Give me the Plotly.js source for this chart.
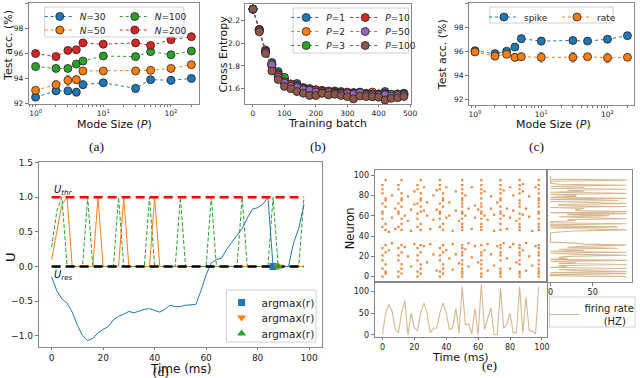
<!DOCTYPE html>
<html>
<head>
<meta charset="utf-8">
<script src="https://cdn.plot.ly/plotly-3.0.1.min.js"></script>
<style>html,body{margin:0;padding:0;background:#fff}#plot{width:640px;height:378px}</style>
</head>
<body>
<div id="plot"></div>
<script>
// (a) test accuracy vs mode size, one series per N
const modeSizes = [1, 2, 3, 4, 5, 10, 30, 50, 100, 200];
const accN30 = [92.5, 93.0, 93.0, 92.9, 93.5, 93.65, 93.2, 93.9, 93.85, 94.0];
const accN50 = [93.05, 93.5, 93.85, 93.9, 94.6, 94.6, 94.6, 94.65, 94.8, 95.1];
const accN100 = [94.95, 94.8, 94.8, 95.15, 95.4, 95.8, 95.75, 96.15, 95.9, 96.2];
const accN200 = [96.0, 95.75, 96.25, 96.3, 96.85, 96.75, 96.85, 96.65, 97.1, 97.35];
const errN30 = [0.1, 0.2, 0.25, 0.3, 0.3, 0.15, 0.3, 0.15, 0.3, 0.2];
const errN50 = [0.15, 0.3, 0.4, 0.3, 0.2, 0.1, 0.1, 0.15, 0.15, 0.15];
const errN100 = [0.15, 0.15, 0.2, 0.15, 0.15, 0.15, 0.15, 0.2, 0.1, 0.1];
const errN200 = [0.1, 0.25, 0.15, 0.2, 0.25, 0.2, 0.15, 0.15, 0.15, 0.1];

// (b) cross entropy during training, one series per P
const batches = [0, 20, 40, 60, 80, 100, 120, 140, 160, 180, 200, 220, 240, 260, 280, 300, 320, 340, 360, 380, 400, 420, 440, 460, 480];
const ceP1 = [2.30, 2.12, 1.94, 1.83, 1.75, 1.68, 1.64, 1.645, 1.61, 1.60, 1.59, 1.585, 1.575, 1.58, 1.575, 1.56, 1.565, 1.57, 1.56, 1.565, 1.555, 1.575, 1.55, 1.555, 1.56];
const ceP2 = [2.30, 2.12, 1.93, 1.82, 1.73, 1.67, 1.63, 1.63, 1.60, 1.60, 1.58, 1.575, 1.57, 1.575, 1.565, 1.56, 1.565, 1.565, 1.555, 1.57, 1.55, 1.56, 1.545, 1.55, 1.55];
const ceP3 = [2.30, 2.11, 1.93, 1.81, 1.73, 1.70, 1.64, 1.62, 1.59, 1.595, 1.575, 1.57, 1.565, 1.57, 1.56, 1.555, 1.56, 1.555, 1.55, 1.53, 1.55, 1.54, 1.55, 1.535, 1.555];
const ceP10 = [2.30, 2.12, 1.93, 1.80, 1.72, 1.66, 1.64, 1.625, 1.60, 1.585, 1.59, 1.575, 1.58, 1.565, 1.56, 1.57, 1.555, 1.56, 1.55, 1.555, 1.545, 1.555, 1.525, 1.535, 1.545];
const ceP50 = [2.30, 2.11, 1.92, 1.81, 1.70, 1.65, 1.62, 1.61, 1.59, 1.585, 1.57, 1.56, 1.565, 1.56, 1.555, 1.555, 1.55, 1.565, 1.545, 1.545, 1.54, 1.545, 1.535, 1.54, 1.545];
const ceP100 = [2.30, 2.10, 1.91, 1.755, 1.68, 1.62, 1.60, 1.575, 1.56, 1.54, 1.54, 1.56, 1.545, 1.55, 1.54, 1.53, 1.51, 1.535, 1.53, 1.53, 1.525, 1.50, 1.515, 1.52, 1.53];
const ceErr = [0.01, 0.02, 0.02, 0.02, 0.02, 0.02, 0.02, 0.02, 0.02, 0.02, 0.02, 0.02, 0.02, 0.02, 0.02, 0.02, 0.02, 0.02, 0.02, 0.02, 0.02, 0.02, 0.02, 0.02, 0.02];

// (c) spike vs rate readout
const accSpike = [96.05, 95.8, 96.0, 96.35, 97.05, 96.85, 96.9, 96.85, 97.0, 97.3];
const accRate = [95.95, 95.6, 95.75, 95.5, 95.55, 95.5, 95.5, 95.55, 95.45, 95.5];
const errSpike = [0.15, 0.3, 0.2, 0.2, 0.3, 0.3, 0.15, 0.1, 0.1, 0.1];
const errRate = [0.2, 0.3, 0.2, 0.3, 0.3, 0.4, 0.4, 0.2, 0.4, 0.1];

// (d) membrane potentials of three output neurons
const timeMs = [0, 2, 4, 6, 8, 10, 12, 14, 16, 18, 20, 22, 24, 26, 28, 30, 32, 34, 36, 38, 40, 42, 44, 46, 48, 50, 52, 54, 56, 58, 60, 62, 64, 66, 68, 70, 72, 74, 76, 78, 80, 82, 84, 86, 88, 90, 92, 94, 96, 98];
const uBlue = [-0.15, -0.35, -0.47, -0.53, -0.66, -0.85, -1.0, -1.07, -1.04, -0.96, -0.91, -0.87, -0.77, -0.72, -0.69, -0.65, -0.67, -0.64, -0.62, -0.61, -0.64, -0.66, -0.62, -0.56, -0.58, -0.58, -0.56, -0.56, -0.55, -0.35, -0.12, 0.05, 0.10, 0.12, 0.25, 0.35, 0.45, 0.55, 0.70, 0.83, 0.85, 0.90, 1.0, 0, 0, 0, 0, 0.35, 0.55, 0.9];
const uOrange = [0.1, 0.5, 0.9, 1, 0, 0, 0, 0, 0, 1, 0, 0, 0, 0, 1, 0, 0, 0, 0, 0, 1, 0, 0, 0, 0, 0, 0, 0, 0, 0, 0, 0, 0, 0, 0, 0, 0, 0, 0, 0, 0, 0, 0, 0, 0, 0, 0, 0, 0, 0];
const uGreen = [0.28, 0.8, 1, 0, 0, 0, 0, 1, 0, 0, 0, 0, 0, 1, 0, 0, 0, 0, 0, 1, 0, 0, 0, 0, 0, 1, 0, 0, 0, 0, 0, 1, 0, 0, 0, 0, 0, 1, 0, 0, 0, 0, 0, 1, 0, 0, 0, 0, 0, 1];
const argmaxTimes = [86, 88, 88];
const uThr = 1.0;
const uRes = 0.0;

// (e) raster: spike time -> neurons firing at that time
const spikeTimes = [0, 2, 4, 6, 8, 10, 12, 14, 16, 18, 20, 22, 24, 26, 28, 30, 32, 34, 36, 38, 40, 42, 44, 46, 48, 50, 52, 54, 56, 58, 60, 62, 64, 66, 68, 70, 72, 74, 76, 78, 80, 82, 84, 86, 88, 90, 92, 94, 96, 98];
const spikeNeurons = [
  [0, 8, 16, 21, 28, 49, 57, 62, 64, 72, 82, 86, 90],
  [3, 5, 12, 24, 31, 46, 52, 69, 75, 77, 95],
  [26, 44], [33, 58, 80], [47, 67],
  [0, 5, 16, 21, 28, 49, 62, 64, 72, 86, 90],
  [3, 8, 12, 24, 31, 46, 52, 57, 69, 75, 77, 82, 95],
  [29, 60], [20, 55, 79], [10, 45, 66], [32, 71, 84],
  [0, 5, 16, 21, 28, 49, 57, 62, 72, 86, 90],
  [3, 8, 12, 24, 31, 46, 52, 64, 69, 75, 77, 82, 95],
  [30, 65, 88], [14, 60, 73], [32, 47], [22, 56, 80], [6, 66, 85],
  [0, 5, 16, 21, 28, 49, 57, 62, 64, 72, 86, 90, 95],
  [3, 8, 12, 24, 31, 46, 52, 69, 75, 77, 82],
  [26, 58, 88], [18, 60, 73], [7, 32, 45], [22, 65, 84], [13, 55],
  [0, 3, 5, 8, 12, 16, 21, 24, 28, 31, 46, 49, 52, 57, 62, 64, 69, 72, 75, 77, 82, 86, 90, 95],
  [27, 60, 80], [10, 33, 67], [19, 47, 88], [30, 58, 70], [14, 66],
  [0, 3, 8, 12, 16, 21, 24, 31, 46, 49, 52, 57, 62, 64, 69, 72, 77, 82, 86, 90, 95],
  [26, 60, 84], [6, 32, 56], [22, 67, 79], [11, 45, 61], [30, 73],
  [0, 3, 5, 8, 16, 21, 24, 28, 31, 46, 52, 57, 62, 64, 69, 75, 77, 82, 86, 90, 95],
  [33, 60, 85], [18, 47, 67], [8, 29, 58, 88], [32, 65, 80], [14, 55],
  [0, 3, 5, 12, 16, 21, 24, 28, 31, 46, 49, 52, 57, 62, 69, 72, 75, 82, 86, 90, 95],
  [26, 61, 84, 91], [6, 33, 67], [20, 59, 79], [11, 45], [30, 88],
  [0, 3, 5, 8, 12, 16, 21, 24, 28, 31, 46, 49, 52, 57, 62, 64, 69, 72, 75, 77, 82, 86, 90, 95]
];
// population firing rate over time (HZ)
const popRate = [0, 50, 70, 55, 12, 5, 50, 79, 0, 50, 16, 10, 50, 74, 50, 5, 15, 15, 50, 74, 50, 12, 16, 61, 4, 111, 23, 25, 2, 61, 0, 117, 12, 35, 62, 0, 0, 108, 15, 25, 50, 5, 5, 111, 5, 87, 10, 8, 2, 111];
// firing rate per neuron (HZ), neuron 0..99
const neuronRate = [90, 0, 0, 90, 0, 90, 30, 10, 90, 0, 20, 10, 90, 10, 30, 0, 90, 0, 20, 10,
  20, 90, 30, 0, 90, 0, 40, 10, 80, 20, 40, 90, 40, 30, 0, 0, 0, 0, 0, 0,
  0, 0, 0, 0, 10, 30, 90, 30, 0, 80, 0, 0, 90, 0, 0, 30, 20, 90, 40, 10,
  70, 20, 90, 0, 90, 30, 30, 40, 0, 90, 10, 10, 90, 30, 0, 80, 0, 90, 0, 30,
  30, 0, 90, 0, 40, 20, 90, 0, 40, 0, 90, 10, 0, 0, 0, 90, 0, 0, 0, 0];

const C = {blue: '#1f77b4', orange: '#ff7f0e', green: '#2ca02c', red: '#d62728', purple: '#9467bd', brown: '#8c564b'};
const px = v => v / 640;
const py = v => 1 - v / 378;

// lw: legend entry width, only for the left column so the right one lines up
function errTrace(x, y, err, color, name, xa, ya, legend, lw) {
    const t = {
        x: x, y: y, name: name, type: 'scatter', mode: 'lines+markers',
        xaxis: xa, yaxis: ya, legend: legend,
        line: {color: color, width: 1, dash: 'dot'},
        marker: {color: color, size: 8, line: {color: '#222', width: 0.8}},
        error_y: {type: 'data', array: err, color: '#888', thickness: 1, width: 2}
    };
    if (lw) t.legendwidth = lw;
    return t;
}

const traces = [
    errTrace(modeSizes, accN30, errN30, C.blue, '<i>N</i>=30', 'x', 'y', 'legend', 30),
    errTrace(modeSizes, accN50, errN50, C.orange, '<i>N</i>=50', 'x', 'y', 'legend2', 30),
    errTrace(modeSizes, accN100, errN100, C.green, '<i>N</i>=100', 'x', 'y', 'legend'),
    errTrace(modeSizes, accN200, errN200, C.red, '<i>N</i>=200', 'x', 'y', 'legend2'),

    errTrace(batches, ceP1, ceErr, C.blue, '<i>P</i>=1', 'x2', 'y2', 'legend3', 14),
    errTrace(batches, ceP2, ceErr, C.orange, '<i>P</i>=2', 'x2', 'y2', 'legend4', 14),
    errTrace(batches, ceP3, ceErr, C.green, '<i>P</i>=3', 'x2', 'y2', 'legend5', 14),
    errTrace(batches, ceP10, ceErr, C.red, '<i>P</i>=10', 'x2', 'y2', 'legend3'),
    errTrace(batches, ceP50, ceErr, C.purple, '<i>P</i>=50', 'x2', 'y2', 'legend4'),
    errTrace(batches, ceP100, ceErr, C.brown, '<i>P</i>=100', 'x2', 'y2', 'legend5'),

    errTrace(modeSizes, accSpike, errSpike, C.blue, 'spike', 'x3', 'y3', 'legend6', 28),
    errTrace(modeSizes, accRate, errRate, C.orange, 'rate', 'x3', 'y3', 'legend6')
];

// (d)
const tEnds = [timeMs[0], timeMs[timeMs.length - 1]];
traces.push(
    {x: timeMs, y: uOrange, xaxis: 'x4', yaxis: 'y4', mode: 'lines', showlegend: false, line: {color: C.orange, width: 1}},
    {x: timeMs, y: uGreen, xaxis: 'x4', yaxis: 'y4', mode: 'lines', showlegend: false, line: {color: C.green, width: 1, dash: '4px,2px'}},
    {x: timeMs, y: uBlue, xaxis: 'x4', yaxis: 'y4', mode: 'lines', showlegend: false, line: {color: C.blue, width: 1}},
    {x: tEnds, y: [uThr, uThr], xaxis: 'x4', yaxis: 'y4', mode: 'lines', showlegend: false, line: {color: '#ff0000', width: 2.5, dash: '9px,5px'}},
    {x: tEnds, y: [uRes, uRes], xaxis: 'x4', yaxis: 'y4', mode: 'lines', showlegend: false, line: {color: '#000', width: 2.5, dash: '9px,5px'}},
    {x: [argmaxTimes[0]], y: [uRes], xaxis: 'x4', yaxis: 'y4', mode: 'markers', name: 'argmax(r)', legend: 'legend7', marker: {symbol: 'square', color: C.blue, size: 7}},
    {x: [argmaxTimes[1]], y: [uRes], xaxis: 'x4', yaxis: 'y4', mode: 'markers', name: 'argmax(r)', legend: 'legend9', marker: {symbol: 'triangle-down', color: C.orange, size: 8}},
    {x: [argmaxTimes[2]], y: [uRes], xaxis: 'x4', yaxis: 'y4', mode: 'markers', name: 'argmax(r)', legend: 'legend10', marker: {symbol: 'triangle-up', color: C.green, size: 8}}
);

// (e)
const rasterX = [];
const rasterY = [];
spikeTimes.forEach((t, i) => {
    spikeNeurons[i].forEach(n => { rasterX.push(t); rasterY.push(n); });
});
const neuronIds = neuronRate.map((_, i) => i);
const tan = 'rgba(205,165,115,0.8)';
traces.push(
    {x: rasterX, y: rasterY, xaxis: 'x5', yaxis: 'y5', mode: 'markers', showlegend: false,
        marker: {symbol: 'square', size: 2.2, color: '#ee8236', line: {width: 0}}},
    {x: timeMs, y: popRate, xaxis: 'x6', yaxis: 'y6', mode: 'lines', name: 'firing rate<br>\u00a0\u00a0\u00a0\u00a0\u00a0\u00a0(HZ)', legend: 'legend8', line: {color: tan, width: 1.1}},
    {x: neuronRate, y: neuronIds, xaxis: 'x7', yaxis: 'y7', mode: 'lines', showlegend: false, line: {color: tan, width: 1.1}}
);

function frame(extra, fs) {
    return Object.assign({
        showline: true, mirror: true, linecolor: '#888', linewidth: 1,
        ticks: 'outside', ticklen: 3, tickcolor: '#777',
        tickfont: {family: 'DejaVu Sans', size: fs || 7.5, color: '#222'},
        showgrid: false, zeroline: false
    }, extra);
}

function rowLegend(x, y, fs) {
    return {
        x: px(x), y: py(y), xanchor: 'left', yanchor: 'top', orientation: 'h',
        bgcolor: 'rgba(0,0,0,0)', borderwidth: 0,
        font: {family: 'DejaVu Sans', size: fs, color: '#222'}
    };
}

function box(x0, y0, x1, y1) {
    return {type: 'rect', xref: 'paper', yref: 'paper', x0: px(x0), x1: px(x1), y0: py(y1), y1: py(y0),
        line: {color: '#d0d0d0', width: 1}, fillcolor: 'rgba(255,255,255,0.85)', layer: 'above'};
}

function label(text, x, y, size, angle, fam) {
    return {text: text, x: px(x), y: py(y), xref: 'paper', yref: 'paper', showarrow: false,
        textangle: angle || 0, xanchor: 'center', yanchor: 'middle',
        font: {family: fam || 'DejaVu Sans', size: size, color: '#111'}};
}

const logTicks = {tickvals: [1, 10, 100], ticktext: ['10<sup>0</sup>', '10<sup>1</sup>', '10<sup>2</sup>'],
    minor: {ticks: 'outside', ticklen: 1.5, tickcolor: '#777', dtick: 'D1'}};

const layout = {
    width: 640, height: 378,
    margin: {l: 0, r: 0, t: 0, b: 0},
    paper_bgcolor: '#fff', plot_bgcolor: '#fff',
    font: {family: 'DejaVu Sans', size: 10, color: '#222'},
    showlegend: true, hovermode: false,

    xaxis: frame(Object.assign({domain: [px(29), px(200)], anchor: 'y', type: 'log', range: [-0.1, 2.41], ticklen: 2}, logTicks)),
    yaxis: frame({domain: [py(104), py(3)], anchor: 'x', range: [91.95, 100.05], tickvals: [92, 94, 96, 98, 100]}),

    xaxis2: frame({domain: [px(247), px(414)], anchor: 'y2', range: [-24, 504], tickvals: [0, 100, 200, 300, 400, 500], ticklen: 2}),
    yaxis2: frame({domain: [py(104), py(4)], anchor: 'x2', range: [1.465, 2.345], tickvals: [1.6, 1.8, 2.0, 2.2], tickformat: '.1f'}),

    xaxis3: frame(Object.assign({domain: [px(472), px(638)], anchor: 'y3', type: 'log', range: [-0.09, 2.4], ticklen: 2}, logTicks)),
    yaxis3: frame({domain: [py(105), py(3)], anchor: 'x3', range: [91.53, 100.02], tickvals: [92, 94, 96, 98, 100]}),

    xaxis4: frame({domain: [px(39), px(324)], anchor: 'y4', range: [-5, 105], tickvals: [0, 20, 40, 60, 80, 100], ticklen: 2}, 9),
    yaxis4: frame({domain: [py(346.7), py(161.7)], anchor: 'x4', range: [-1.16, 1.515], tickvals: [-1, -0.5, 0, 0.5, 1, 1.5], tickformat: '.1f'}, 9),

    xaxis5: frame({domain: [px(377), px(550)], anchor: 'y5', range: [-4.9, 102.9], showticklabels: false, ticks: ''}),
    yaxis5: frame({domain: [py(281.7), py(170)], anchor: 'x5', range: [-4.95, 104.95], tickvals: [0, 20, 40, 60, 80, 100]}, 8),
    xaxis6: frame({domain: [px(377), px(550)], anchor: 'y6', range: [-4.9, 102.9], tickvals: [0, 20, 40, 60, 80, 100], ticklen: 2}, 8),
    yaxis6: frame({domain: [py(337.3), py(281.7)], anchor: 'x6', range: [-5.8, 122.8], tickvals: [0, 50, 100]}, 8),
    xaxis7: frame({domain: [px(550), px(636)], anchor: 'y7', range: [-4.6, 96.5], tickvals: [0, 50]}, 8),
    yaxis7: frame({domain: [py(281.7), py(170)], anchor: 'x7', range: [-4.95, 104.95], showticklabels: false, ticks: ''}),

    legend: rowLegend(40, 2, 9),
    legend2: rowLegend(40, 15.5, 9),
    legend3: rowLegend(288, 3, 9),
    legend4: rowLegend(288, 17, 9),
    legend5: rowLegend(288, 31, 9),
    legend6: rowLegend(487, 2.5, 9),
    legend7: rowLegend(223, 288, 10.5),
    legend9: rowLegend(223, 303, 10.5),
    legend10: rowLegend(223, 319, 10.5),
    legend8: {x: px(548), y: py(295), xanchor: 'left', yanchor: 'top', bgcolor: 'rgba(0,0,0,0)', borderwidth: 0,
        font: {family: 'DejaVu Sans', size: 10, color: '#222'}},

    shapes: [
        box(45, 7, 185, 37),
        box(295, 8, 411, 53),
        box(493, 7, 617, 23),
        box(228, 290, 318, 342),
        box(553, 297, 639, 327)
    ],

    annotations: [
        label('Test acc. (%)', 8, 45, 11, -90),
        label('Mode Size (<i>P</i>)', 115, 124.5, 11),
        label('Cross Entropy', 225, 54, 11, -90),
        label('Training batch', 330, 123.5, 11),
        label('Test acc. (%)', 446, 55, 11, -90),
        label('Mode Size (<i>P</i>)', 557, 124.5, 11),
        label('(a)', 97, 147, 13.5, 0, 'Liberation Serif'),
        label('(b)', 320, 147, 13.5, 0, 'Liberation Serif'),
        label('(c)', 540, 147, 13.5, 0, 'Liberation Serif'),
        label('U', 10, 257, 13, -90),
        label('Time (ms)', 182, 369, 12),
        label('(d)', 162, 371, 13.5, 0, 'Liberation Serif'),
        label('Neuron', 352.5, 228, 11.5, -90),
        label('Time (ms)', 463, 357.5, 11),
        label('(e)', 493, 365, 13.5, 0, 'Liberation Serif'),
        {text: '<i>U<sub>thr</sub></i>', x: 0, y: 1.1, xref: 'x4', yref: 'y4', showarrow: false, xanchor: 'left', yanchor: 'middle',
            font: {family: 'DejaVu Sans', size: 10, color: '#111'}},
        {text: '<i>U<sub>res</sub></i>', x: 0, y: -0.13, xref: 'x4', yref: 'y4', showarrow: false, xanchor: 'left', yanchor: 'middle',
            font: {family: 'DejaVu Sans', size: 10, color: '#111'}}
    ]
};

Plotly.newPlot('plot', traces, layout, {staticPlot: true});
</script>
</body>
</html>
